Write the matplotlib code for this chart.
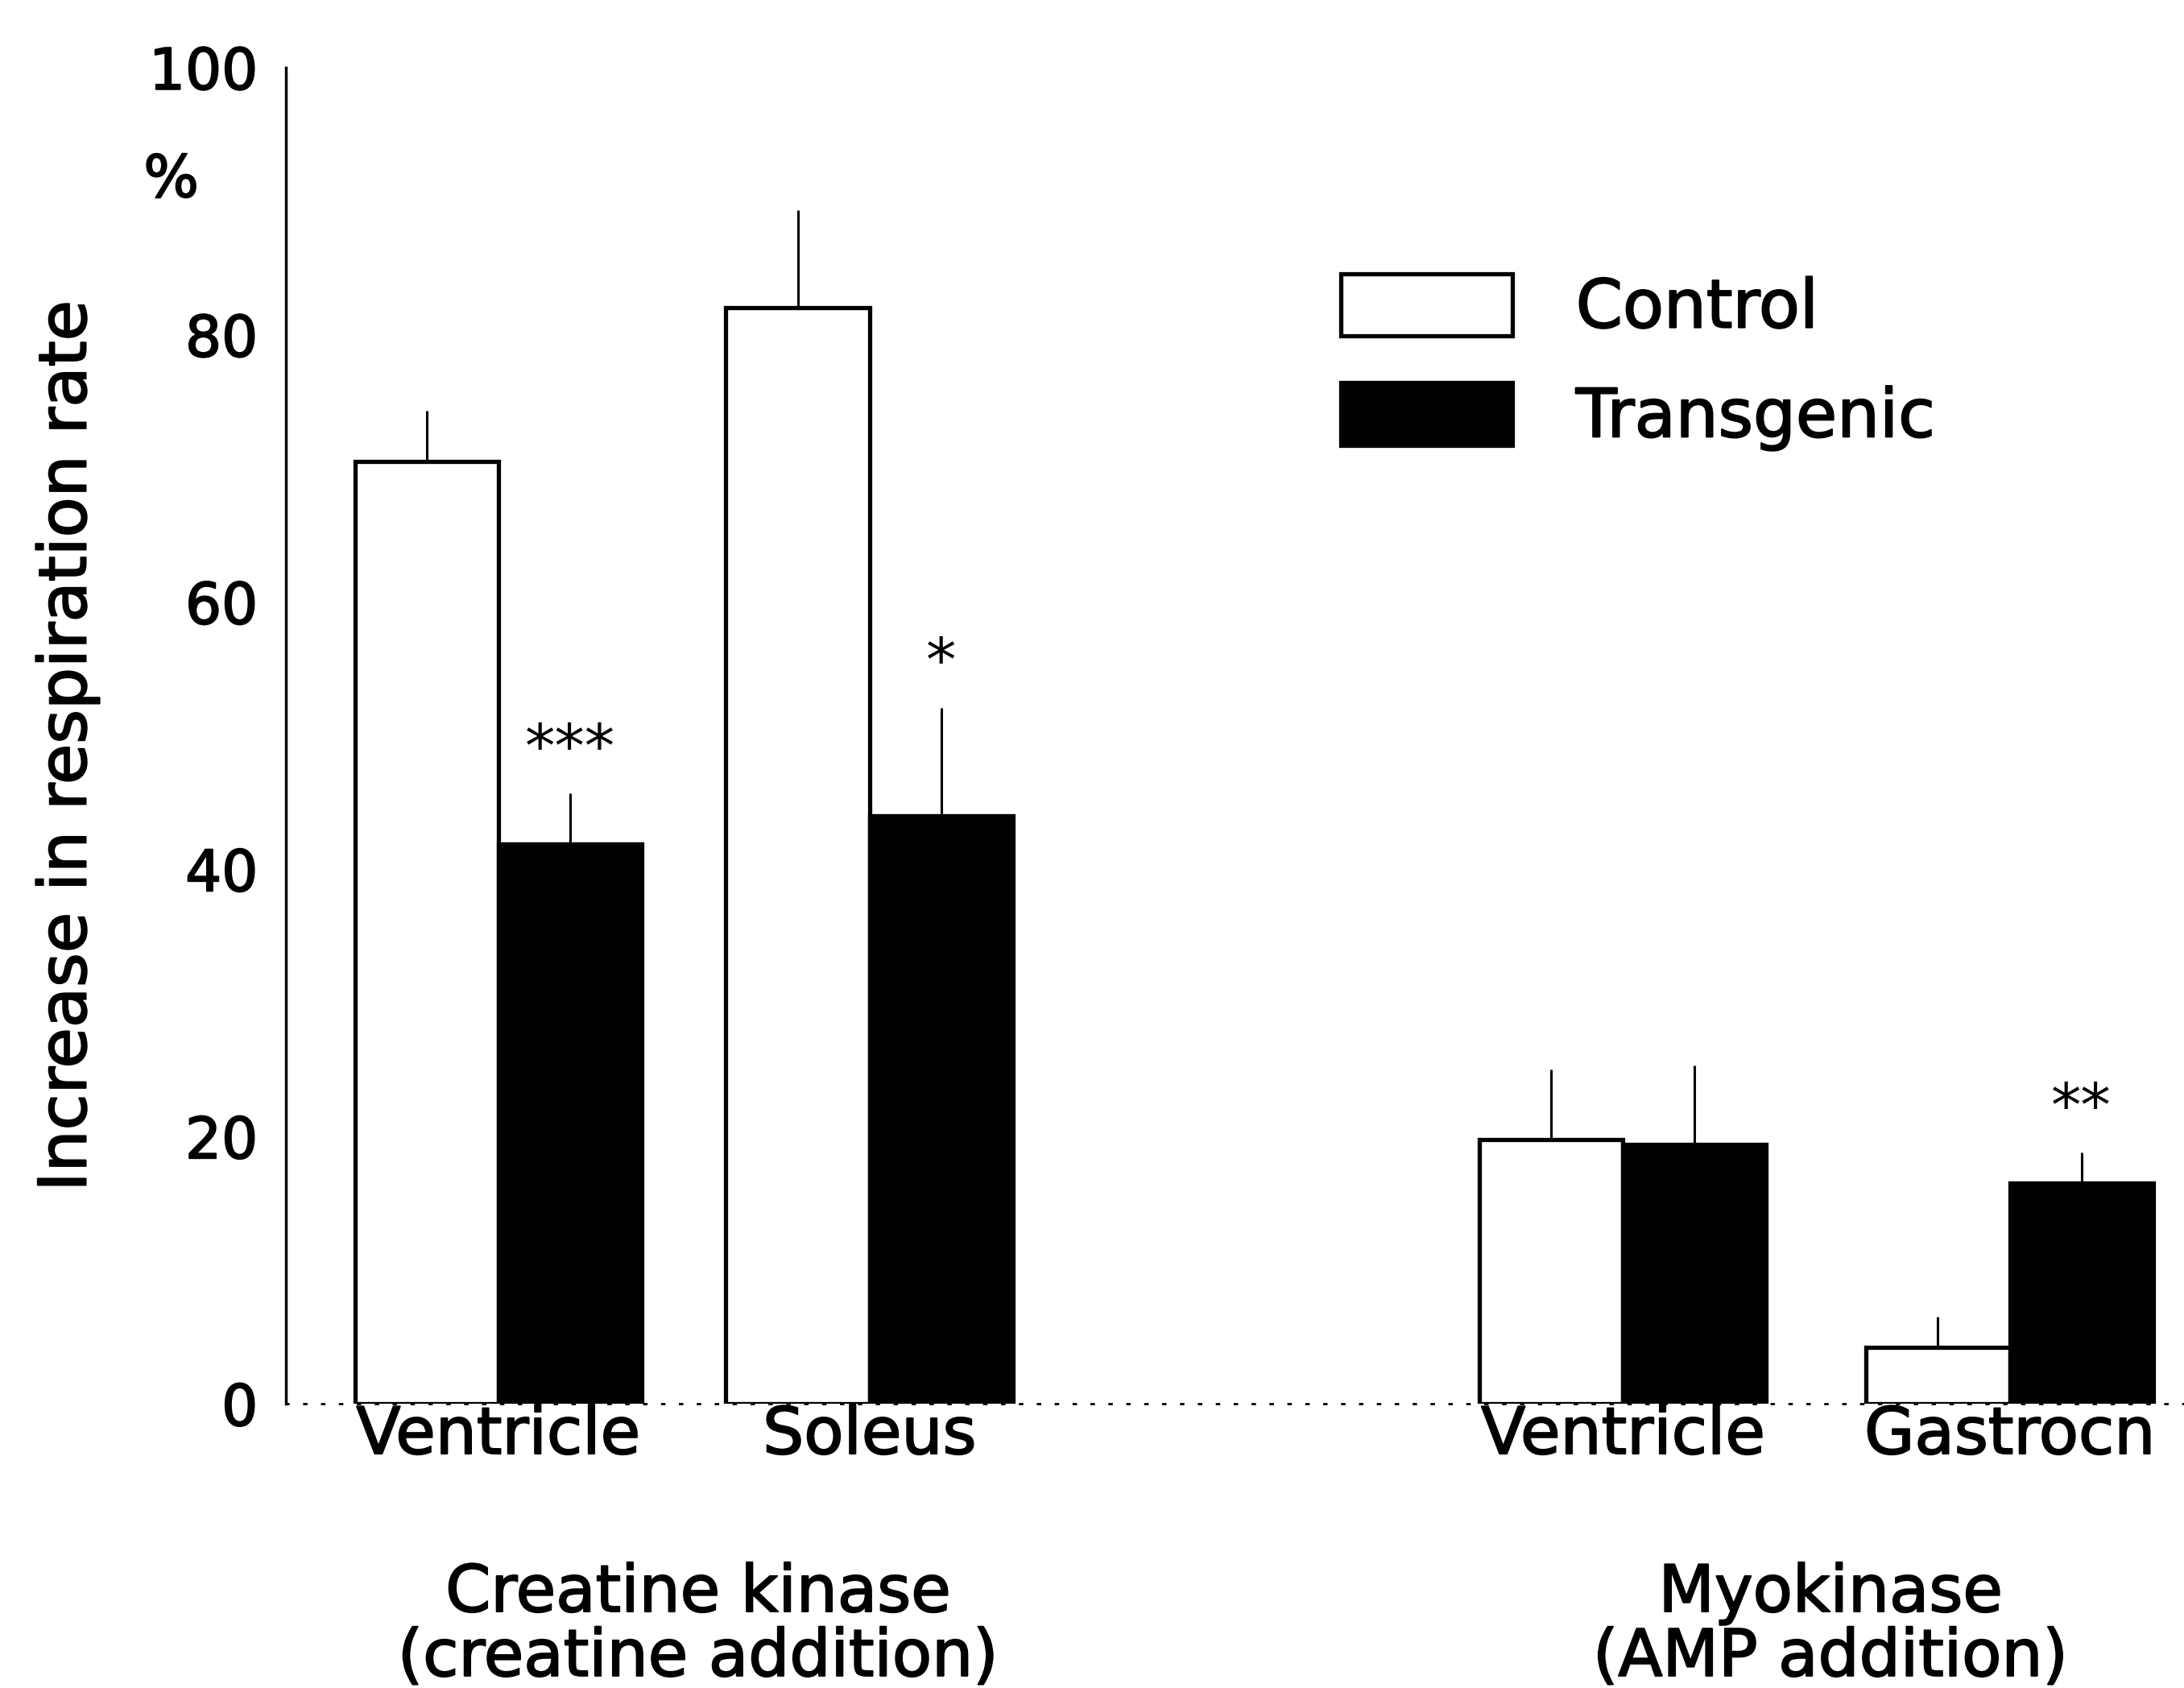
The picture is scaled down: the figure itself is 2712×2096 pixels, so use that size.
import numpy as np
import matplotlib
matplotlib.use("Agg")
import matplotlib.pyplot as plt
import matplotlib.patheffects as pe
from matplotlib.transforms import blended_transform_factory

# values (% increase in respiration rate)
tissues = ["Ventricle", "Soleus", "Ventricle", "Gastrocn"]
groups = ["Creatine kinase", "Myokinase"]
group_sub = ["(creatine addition)", "(AMP addition)"]
control = [70.5, 82.0, 19.8, 4.2]
control_err = [3.8, 7.3, 5.2, 2.3]
transgenic = [41.9, 44.0, 19.4, 16.5]
transgenic_err = [3.8, 8.1, 5.9, 2.3]
stars = ["***", "*", "", "**"]
yticks = [0, 20, 40, 60, 80, 100]

# bar positions (in bar widths)
x_ctrl = np.array([1.0, 3.64, 9.0, 11.75])
width = 1.02
x_tg = x_ctrl + width

# scanned print looks a little heavier than plain DejaVu
heavy = [pe.withStroke(linewidth=1.4, foreground="black")]

fig = plt.figure(figsize=(27.12, 20.96), dpi=100)
ax = fig.add_axes([0.1309, 0.1684, 0.8691, 0.7916])

ax.bar(x_ctrl, control, width=width, color="white", edgecolor="black", linewidth=3.8, zorder=2)
ax.bar(x_tg, transgenic, width=width, color="black", edgecolor="black", linewidth=3.8, zorder=2)

ax.errorbar(x_ctrl, control, yerr=[np.zeros(4), control_err], fmt="none",
            ecolor="black", elinewidth=2.2, capsize=0, zorder=1)
ax.errorbar(x_tg, transgenic, yerr=[np.zeros(4), transgenic_err], fmt="none",
            ecolor="black", elinewidth=2.2, capsize=0, zorder=1)

# significance marks
for xi, v, e, s in zip(x_tg, transgenic, transgenic_err, stars):
    if s:
        ax.text(xi, v + e + 2.0, s, ha="center", va="baseline", fontsize=54)

ax.set_xlim(0, 13.5)
ax.set_ylim(0, 100)
ax.set_yticks(yticks)
ax.set_yticklabels([str(t) for t in yticks], fontsize=51)
ax.tick_params(axis="y", length=0, pad=25)
ax.set_xticks([])
for lab in ax.get_yticklabels():
    lab.set_path_effects(heavy)

for side in ["top", "right"]:
    ax.spines[side].set_visible(False)
ax.spines["left"].set_linewidth(2.5)
ax.spines["bottom"].set_linewidth(2.0)
ax.spines["bottom"].set_linestyle((0, (1, 7)))

# category and group labels
trans = blended_transform_factory(ax.transData, fig.transFigure)
mids = (x_ctrl + x_tg) / 2
for xm, name in zip(mids, tissues):
    ax.text(xm, 0.1493, name, transform=trans, ha="center", va="center",
            fontsize=58, path_effects=heavy)

grp_x = [np.mean([x_ctrl[0], x_tg[1]]) + 0.1, np.mean([x_ctrl[2], x_tg[3]]) + 0.1]
for gx, g, sub in zip(grp_x, groups, group_sub):
    ax.text(gx, 0.0453, g, transform=trans, ha="center", va="baseline",
            fontsize=58, path_effects=heavy)
    ax.text(gx, 0.0072, sub, transform=trans, ha="center", va="baseline",
            fontsize=58, path_effects=heavy)

fig.text(0.031, 0.5586, "Increase in respiration rate", rotation=90,
         ha="center", va="center", fontsize=59, path_effects=heavy)
fig.text(0.0784, 0.8927, "%", ha="center", va="center", fontsize=52, path_effects=heavy)

h1 = plt.Rectangle((0, 0), 1, 1, facecolor="white", edgecolor="black", linewidth=3.8)
h2 = plt.Rectangle((0, 0), 1, 1, facecolor="black", edgecolor="black", linewidth=3.8)
leg = ax.legend([h1, h2], ["Control", "Transgenic"], loc="upper left",
                bbox_to_anchor=(0.614, 0.838), bbox_transform=fig.transFigure,
                frameon=False, fontsize=60, handlelength=2.55, handleheight=1.05,
                handletextpad=0.95, labelspacing=0.62, borderpad=0, borderaxespad=0)
for t in leg.get_texts():
    t.set_path_effects(heavy)

fig.savefig("out.png", dpi=100)
